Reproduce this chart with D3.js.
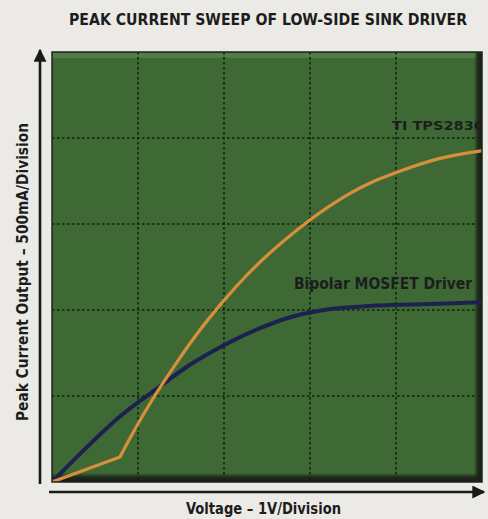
<!DOCTYPE html>
<html>
<head>
<meta charset="utf-8">
<script src="https://cdn.jsdelivr.net/npm/d3@7"></script>
<style>
  body { margin: 0; background: #ebeae6; }
  svg { display: block; }
  .lbl { font-family: "DejaVu Sans Condensed", "Liberation Sans Narrow", "DejaVu Sans", sans-serif; font-stretch: condensed; font-weight: bold; fill: #1d1d1d; }
</style>
</head>
<body>
<svg id="chart"></svg>
<script>
// volts vs peak current (mA) (1V / 500mA per division)
const tiVolts = [0, 0.79, 0.94, 1.18, 1.41, 1.64, 1.99, 2.27, 2.54, 2.86, 3.2, 3.47, 3.75, 4.06, 4.5, 4.99];
const tiCurrent = [0, 145, 285, 490, 665, 830, 1050, 1205, 1335, 1470, 1595, 1680, 1750, 1810, 1880, 1925];
const bipolarVolts = [0, 0.4, 0.8, 1.2, 1.6, 2.0, 2.4, 2.8, 3.2, 3.6, 4.0, 4.5, 4.99];
const bipolarCurrent = [0, 200, 385, 535, 680, 795, 890, 962, 1003, 1020, 1030, 1036, 1045];
const xTicks = [1, 2, 3, 4];
const yTicks = [500, 1000, 1500, 2000];

const width = 488, height = 519;
const svg = d3.select("#chart").attr("width", width).attr("height", height);

const x = d3.scaleLinear().domain([0, 5]).range([52, 482]);
const y = d3.scaleLinear().domain([0, 2500]).range([482, 52]);

// title
svg.append("text").attr("class", "lbl")
   .attr("x", 268).attr("y", 25)
   .attr("text-anchor", "middle")
   .attr("font-size", 15)
   .attr("textLength", 398).attr("lengthAdjust", "spacingAndGlyphs")
   .text("PEAK CURRENT SWEEP OF LOW-SIDE SINK DRIVER");

// plot background
const defs = svg.append("defs");
defs.append("clipPath").attr("id", "plotClip")
    .append("rect")
    .attr("x", x(0)).attr("y", y(2500))
    .attr("width", x(5) - x(0)).attr("height", y(0) - y(2500));

const gBot = defs.append("linearGradient").attr("id", "botShade").attr("x1", 0).attr("y1", 0).attr("x2", 0).attr("y2", 1);
gBot.append("stop").attr("offset", "0%").attr("stop-color", "#1b2418").attr("stop-opacity", 0);
gBot.append("stop").attr("offset", "45%").attr("stop-color", "#1b2418").attr("stop-opacity", 0.9);
gBot.append("stop").attr("offset", "100%").attr("stop-color", "#151a13").attr("stop-opacity", 1);
const gRight = defs.append("linearGradient").attr("id", "rightShade").attr("x1", 0).attr("y1", 0).attr("x2", 1).attr("y2", 0);
gRight.append("stop").attr("offset", "0%").attr("stop-color", "#1b2418").attr("stop-opacity", 0);
gRight.append("stop").attr("offset", "45%").attr("stop-color", "#1b2418").attr("stop-opacity", 0.85);
gRight.append("stop").attr("offset", "100%").attr("stop-color", "#151a13").attr("stop-opacity", 1);

svg.append("rect")
   .attr("x", x(0)).attr("y", y(2500))
   .attr("width", x(5) - x(0)).attr("height", y(0) - y(2500))
   .attr("fill", "#3e6935");

// lighter strip along the top edge
svg.append("rect")
   .attr("x", x(0)).attr("y", y(2500) + 1)
   .attr("width", x(5) - x(0) - 6).attr("height", 5)
   .attr("fill", "#6a8f5c").attr("opacity", 0.5);

const plot = svg.append("g").attr("clip-path", "url(#plotClip)");

// dotted grid
plot.selectAll(".vgrid").data(xTicks).enter().append("line")
    .attr("x1", d => x(d)).attr("x2", d => x(d))
    .attr("y1", y(2500)).attr("y2", y(0))
    .attr("stroke", "#142012").attr("stroke-width", 1.6)
    .attr("stroke-dasharray", "2.5,2.5");
plot.selectAll(".hgrid").data(yTicks).enter().append("line")
    .attr("x1", x(0)).attr("x2", x(5))
    .attr("y1", d => y(d)).attr("y2", d => y(d))
    .attr("stroke", "#142012").attr("stroke-width", 1.6)
    .attr("stroke-dasharray", "2.5,2.5");

// dark shading along right and bottom edges
plot.append("rect")
    .attr("x", x(0)).attr("y", y(0) - 9)
    .attr("width", x(5) - x(0)).attr("height", 9)
    .attr("fill", "url(#botShade)");
plot.append("rect")
    .attr("x", x(5) - 8).attr("y", y(2500))
    .attr("width", 8).attr("height", y(0) - y(2500))
    .attr("fill", "url(#rightShade)");

// curves
const tiData = tiVolts.map((v, i) => [v, tiCurrent[i]]);
const bipolarData = bipolarVolts.map((v, i) => [v, bipolarCurrent[i]]);

const smooth = d3.line().x(d => x(d[0])).y(d => y(d[1])).curve(d3.curveMonotoneX);
const straight = d3.line().x(d => x(d[0])).y(d => y(d[1]));

plot.append("path")
    .attr("d", smooth(bipolarData))
    .attr("fill", "none").attr("stroke", "#1c2150")
    .attr("stroke-width", 4).attr("stroke-linecap", "round");

// TI curve: straight up to the knee, smooth after it
plot.append("path")
    .attr("d", straight(tiData.slice(0, 2)) + smooth(tiData.slice(1)).replace(/^M/, "L"))
    .attr("fill", "none").attr("stroke", "#d88f3c")
    .attr("stroke-width", 3.2).attr("stroke-linejoin", "round").attr("stroke-linecap", "round");

// series labels
plot.append("text").attr("class", "lbl")
    .attr("x", 392).attr("y", 130)
    .attr("font-size", 13)
    .attr("textLength", 92).attr("lengthAdjust", "spacingAndGlyphs")
    .attr("fill", "#111")
    .text("TI TPS2830");
plot.append("text").attr("class", "lbl")
    .attr("x", 294).attr("y", 289)
    .attr("font-size", 15)
    .attr("textLength", 178).attr("lengthAdjust", "spacingAndGlyphs")
    .attr("fill", "#111")
    .text("Bipolar MOSFET Driver");

// plot border
svg.append("rect")
   .attr("x", x(0)).attr("y", y(2500))
   .attr("width", x(5) - x(0)).attr("height", y(0) - y(2500))
   .attr("fill", "none").attr("stroke", "#1d2619").attr("stroke-width", 1.5);

// arrow axes
defs.append("marker").attr("id", "arrow")
    .attr("viewBox", "0 0 10 10").attr("refX", 9).attr("refY", 5)
    .attr("markerWidth", 13).attr("markerHeight", 13).attr("markerUnits", "userSpaceOnUse")
    .attr("orient", "auto")
    .append("path").attr("d", "M0,0L10,5L0,10Z").attr("fill", "#1a1a1a");

const yAxisScale = d3.scaleLinear().domain([0, 2500]).range([484, 50]);
const xAxisScale = d3.scaleLinear().domain([0, 5]).range([49, 484]);

const yAxis = svg.append("g").attr("transform", "translate(40,0)")
   .call(d3.axisLeft(yAxisScale).tickValues([]).tickSizeOuter(0));
yAxis.select(".domain").attr("stroke", "#1a1a1a").attr("stroke-width", 2.6)
   .attr("d", `M0,${yAxisScale(0)}V${yAxisScale(2500)}`)
   .attr("marker-end", "url(#arrow)");

const xAxis = svg.append("g").attr("transform", "translate(0,492)")
   .call(d3.axisBottom(xAxisScale).tickValues([]).tickSizeOuter(0));
xAxis.select(".domain").attr("stroke", "#1a1a1a").attr("stroke-width", 2.6)
   .attr("d", `M${xAxisScale(0)},0H${xAxisScale(5)}`)
   .attr("marker-end", "url(#arrow)");

// axis titles
svg.append("text").attr("class", "lbl")
   .attr("transform", "translate(28,272) rotate(-90)")
   .attr("text-anchor", "middle")
   .attr("font-size", 16)
   .attr("textLength", 298).attr("lengthAdjust", "spacingAndGlyphs")
   .text("Peak Current Output \u2013 500mA/Division");

svg.append("text").attr("class", "lbl")
   .attr("x", 186).attr("y", 514)
   .attr("font-size", 16)
   .attr("textLength", 155).attr("lengthAdjust", "spacingAndGlyphs")
   .text("Voltage \u2013 1V/Division");
</script>
</body>
</html>
